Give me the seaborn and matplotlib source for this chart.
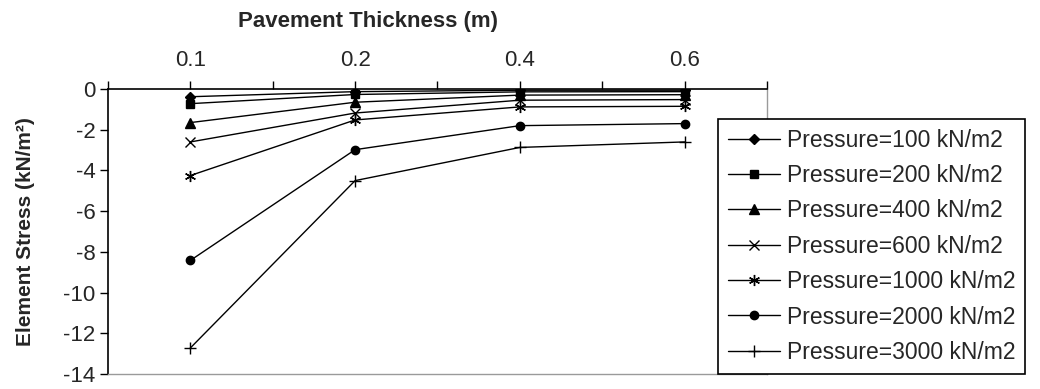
import numpy as np
import pandas as pd
import seaborn as sns
import matplotlib.pyplot as plt

# Pavement thickness categories (top x axis)
thickness = ["0.1", "0.2", "0.4", "0.6"]

# Element stress (kN/m2), one list per pressure
p100 = [-0.38, -0.13, -0.06, -0.06]
p200 = [-0.72, -0.27, -0.14, -0.13]
p400 = [-1.65, -0.65, -0.3, -0.28]
p600 = [-2.6, -1.18, -0.55, -0.52]
p1000 = [-4.25, -1.52, -0.88, -0.85]
p2000 = [-8.42, -2.98, -1.8, -1.7]
p3000 = [-12.72, -4.5, -2.87, -2.6]

labels = ["Pressure=100 kN/m2", "Pressure=200 kN/m2", "Pressure=400 kN/m2",
          "Pressure=600 kN/m2", "Pressure=1000 kN/m2", "Pressure=2000 kN/m2",
          "Pressure=3000 kN/m2"]
series = [p100, p200, p400, p600, p1000, p2000, p3000]
markers = ["D", "s", "^", "x", (6, 2, 0), "o", "+"]
msizes = [5, 6, 7, 7, 8, 6, 9]

sns.set_style("white")
plt.rcParams["font.family"] = ["Liberation Sans", "DejaVu Sans"]
plt.rcParams["axes.unicode_minus"] = False

fig = plt.figure(figsize=(10.4, 3.89), dpi=100)
ax = fig.add_axes([108 / 1040, 15 / 389, 659 / 1040, 285 / 389])

# one lineplot per pressure (filled and line-art markers can't share a style mapping)
for vals, lab, m, ms in zip(series, labels, markers, msizes):
    df = pd.DataFrame({"Thickness": thickness, "Stress": vals})
    sns.lineplot(data=df, x="Thickness", y="Stress", ax=ax, color="black",
                 marker=m, markersize=ms, markeredgecolor="black",
                 markerfacecolor="black", markeredgewidth=1.0,
                 linewidth=1.0, label=lab)

ax.set_xlim(-0.5, 3.5)
ax.set_ylim(-14, 0)
ax.set_yticks(np.arange(-14, 1, 2))

# x axis on top, tick marks every half category
ax.xaxis.tick_top()
ax.set_xticks(np.arange(-0.5, 3.6, 1.0), minor=True)
ax.tick_params(axis="x", which="both", direction="out", length=6, width=1,
               color="black", top=True, bottom=False)
ax.tick_params(axis="x", which="major", labelsize=16, pad=7)
ax.tick_params(axis="y", direction="out", length=6, width=1, color="black",
               left=True, labelsize=16, pad=3)
ax.set_xlabel("")
ax.set_ylabel("Element Stress (kN/m²)", fontsize=15, fontweight="bold",
              labelpad=20)

for side in ["left", "top"]:
    ax.spines[side].set_color("black")
    ax.spines[side].set_linewidth(1.2)
for side in ["right", "bottom"]:
    ax.spines[side].set_color("#9a9a9a")
    ax.spines[side].set_linewidth(1.0)

fig.text(368 / 1040, 1 - 21 / 389, "Pavement Thickness (m)", fontsize=16,
         fontweight="bold", ha="center", va="center")

leg = ax.legend(loc="upper left", bbox_to_anchor=(718 / 1040, 1 - 119 / 389),
                bbox_transform=fig.transFigure, fontsize=16.5, frameon=True,
                fancybox=False, edgecolor="black", framealpha=1,
                handlelength=2.3, handletextpad=0.3, borderpad=0.42,
                labelspacing=0.54, borderaxespad=0)
leg.get_frame().set_linewidth(1.2)

fig.savefig("out.png", dpi=100)
